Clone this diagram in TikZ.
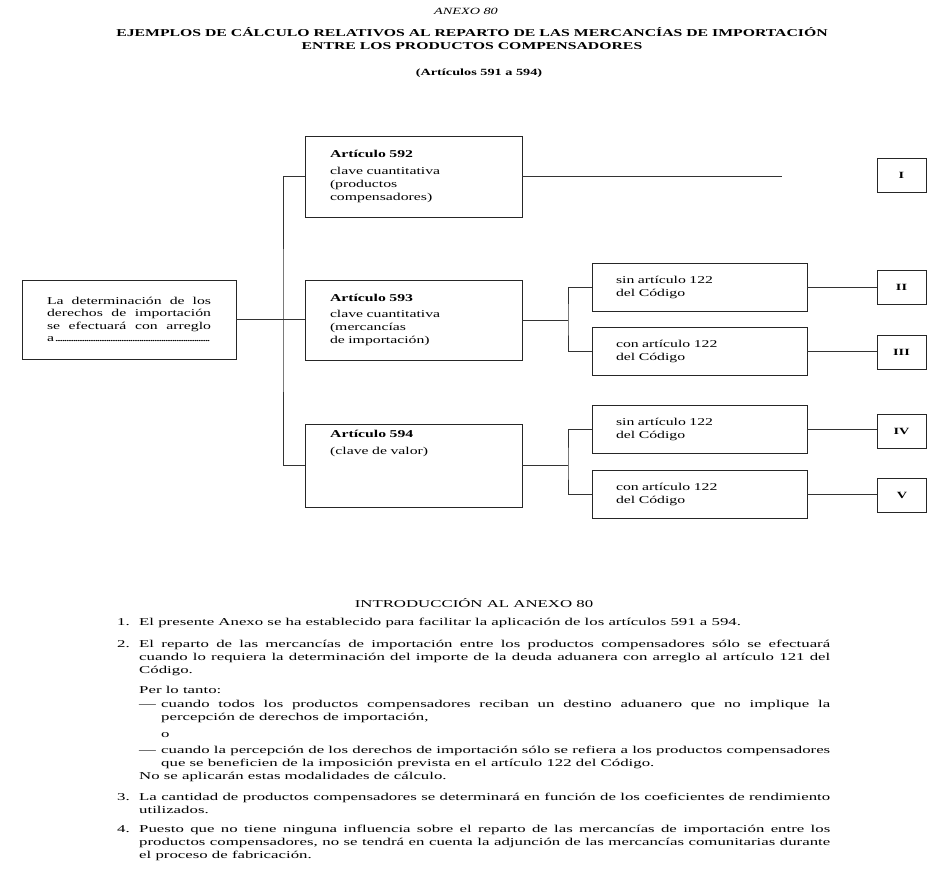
\documentclass[tikz,border=0pt]{standalone}
\usepackage{fontspec}
\setmainfont{Liberation Serif}[FakeStretch=1.5]
\newfontfamily\bodyfont{Liberation Serif}[FakeStretch=1.6]
\setlength{\parindent}{0pt}
\begin{document}
\begin{tikzpicture}[x=1pt,y=-1pt,
  every node/.style={inner sep=0pt},
  box/.style={draw=black!85, line width=0.8pt},
  conn/.style={draw=black!80, line width=0.7pt},
  boxtxt/.style={font=\fontsize{10.5}{13}\selectfont, align=left},
  artbox/.style={box, boxtxt, minimum width=217pt, text width=167pt, inner xsep=25pt},
  subbox/.style={box, boxtxt, minimum width=215pt, minimum height=48pt, text width=167pt, inner xsep=24pt},
  roman/.style={box, minimum width=49pt, minimum height=34pt, font=\fontsize{9.5}{11}\selectfont\bfseries},
  body/.style={anchor=base west, font=\bodyfont\fontsize{10.5}{13}\selectfont, align=justify},
  num/.style={anchor=base west, font=\bodyfont\fontsize{10.5}{13}\selectfont},
]
\useasboundingbox (0,0) rectangle (945,873);

% ---- heading
\node[font=\fontsize{9.5}{12}\selectfont\itshape] (anexo) at (466,11) {ANEXO 80};
\node[font=\fontsize{10.5}{13}\selectfont\bfseries, align=center] (title) at (472,39) {EJEMPLOS DE CÁLCULO RELATIVOS AL REPARTO DE LAS MERCANCÍAS DE IMPORTACIÓN\\ENTRE LOS PRODUCTOS COMPENSADORES};
\node[font=\fontsize{9.5}{12}\selectfont\bfseries] (arts) at (479,73) {(Artículos 591 a 594)};

% ---- boxes
\node[box, minimum width=214pt, minimum height=79pt, text width=164pt, inner xsep=25pt,
      font=\fontsize{10.5}{12.5}\selectfont, align=justify] (M) at (129,319.5)
  {La determinación de los\linebreak derechos de importación\linebreak se efectuará con arreglo\linebreak a\leaders\hbox to 2.2pt{\hss.\hss}\hskip 0pt plus 1fill\mbox{}};

\node[artbox, minimum height=81pt] (B592) at (413.5,176.5)
  {\textbf{Artículo 592}\\[3.5pt]clave cuantitativa\\(productos\\compensadores)};
\node[artbox, minimum height=80pt] (B593) at (413.5,320)
  {\textbf{Artículo 593}\\[3.5pt]clave cuantitativa\\(mercancías\\de importación)};
\node[box, minimum width=217pt, minimum height=83pt] (B594) at (413.5,465.5) {};
\node[boxtxt, anchor=north west, text width=167pt] (t594) at (330,430)
  {\textbf{Artículo 594}\\[3.5pt](clave de valor)};

\node[subbox] (S1) at (699.5,287) {sin artículo 122\\del Código};
\node[subbox] (S2) at (699.5,351) {con artículo 122\\del Código};
\node[subbox] (S3) at (699.5,429) {sin artículo 122\\del Código};
\node[subbox] (S4) at (699.5,494) {con artículo 122\\del Código};

\node[roman] (R1) at (901.5,175) {I};
\node[roman] (R2) at (901.5,287.5) {II};
\node[roman] (R3) at (901.5,352) {III};
\node[roman] (R4) at (901.5,431.5) {IV};
\node[roman] (R5) at (902,495.5) {V};

% ---- connectors
\coordinate (tr) at (283,320);
\coordinate (fade) at (782,176.5);
\coordinate (st1) at (568,320);
\coordinate (st2) at (568,465.5);
\draw[conn] (M.east) -- (M.east -| B593.west);
\draw[conn] (B592.west) -| (tr) |- (B594.west);
\draw[conn] (B592.east) -- (fade);
\draw[conn] (B593.east) -- (st1);
\draw[conn] (S1.west) -| (st1) |- (S2.west);
\draw[conn] (B594.east) -- (st2);
\draw[conn] (S3.west) -| (st2) |- (S4.west);
\draw[conn] (S1.east) -- (S1.east -| R2.west);
\draw[conn] (S2.east) -- (S2.east -| R3.west);
\draw[conn] (S3.east) -- (S3.east -| R4.west);
\draw[conn] (S4.east) -- (S4.east -| R5.west);

% ---- introduction
\node[font=\bodyfont\fontsize{10.5}{12}\selectfont] (intro) at (474,603) {INTRODUCCIÓN AL ANEXO 80};

\node[num] (n1) at (117,625.5) {1.};
\node[num] (p1) at (139,625.5)
  {El presente Anexo se ha establecido para facilitar la aplicación de los artículos 591 a 594.};

\node[num] (n2) at (117,647.5) {2.};
\node[body, text width=691pt] (p2) at (139,647.5)
  {El reparto de las mercancías de importación entre los productos compensadores sólo se efectuará\linebreak
   cuando lo requiera la determinación del importe de la deuda aduanera con arreglo al artículo 121 del\linebreak
   Código.};
\node[num] (p2b) at (139,693.5) {Per lo tanto:};
\node[num] (d1) at (139,707.5) {—};
\node[body, text width=669pt] (pa) at (161,707.5)
  {cuando todos los productos compensadores reciban un destino aduanero que no implique la\linebreak
   percepción de derechos de importación,};
\node[num] (po) at (161,737.5) {o};
\node[num] (d2) at (139,753.5) {—};
\node[body, text width=669pt] (pb) at (161,753.5)
  {cuando la percepción de los derechos de importación sólo se refiera a los productos compensadores\linebreak
   que se beneficien de la imposición prevista en el artículo 122 del Código.};
\node[num] (p2c) at (139,779.5) {No se aplicarán estas modalidades de cálculo.};

\node[num] (n3) at (117,800.5) {3.};
\node[body, text width=691pt] (p3) at (139,800.5)
  {La cantidad de productos compensadores se determinará en función de los coeficientes de rendimiento\linebreak
   utilizados.};

\node[num] (n4) at (117,832.5) {4.};
\node[body, text width=691pt] (p4) at (139,832.5)
  {Puesto que no tiene ninguna influencia sobre el reparto de las mercancías de importación entre los\linebreak
   productos compensadores, no se tendrá en cuenta la adjunción de las mercancías comunitarias durante\linebreak
   el proceso de fabricación.};
\end{tikzpicture}
\end{document}
